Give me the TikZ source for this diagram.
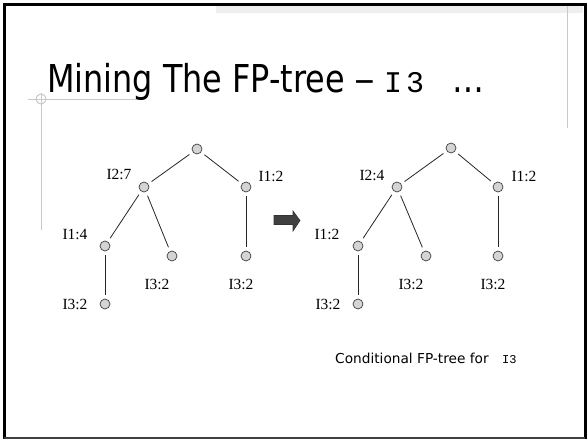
\documentclass[tikz,border=0pt]{standalone}
\usepackage{fontspec}
\newfontfamily\titlefont[FakeStretch=0.83]{DejaVu Sans}
\newfontfamily\capfont{DejaVu Sans}
\newfontfamily\codefont{Liberation Mono}
\newfontfamily\labelfont{Liberation Serif}
\definecolor{framegray}{HTML}{404040}
\definecolor{rulegray}{HTML}{C8C8C8}
\definecolor{bandgray}{HTML}{EEEEEE}
\definecolor{nodefill}{HTML}{D4D4D4}
\definecolor{arrowfill}{HTML}{404040}
\tikzset{
  treenode/.style={circle, draw=framegray, fill=nodefill, line width=0.7pt,
    minimum size=10pt, inner sep=0pt},
  treeedge/.style={draw=black!85, line width=0.8pt, shorten <=4pt, shorten >=4pt},
  countlabel/.style={inner sep=0pt, font=\fontsize{15.5}{16}\labelfont},
  deco/.style={draw=rulegray, line width=1pt},
}
\begin{document}
\begin{tikzpicture}[x=1pt, y=-1pt]
\useasboundingbox (0,0) rectangle (587,439);
\fill[white] (0,0) rectangle (587,439);

% slide decoration: top band, thin rules and crosshair
\fill[bandgray] (216,6) rectangle (583,13);
\draw[deco] (567,6) -- (567,128);
\draw[deco] (28,99) -- (143,99);
\draw[deco] (41,93) -- (41,230);
\draw[deco] (41,99) circle (5);

% slide frame
\draw[black, line width=3pt] (4,439) -- (4,4) -- (585,4) -- (585,439);
\draw[framegray, line width=2pt] (4,437.5) -- (585,437.5);

% title
\node[anchor=base west, inner sep=0pt, font=\fontsize{38.4}{40}\titlefont] (title) at (47,92) {Mining The FP-tree \kern-1pt\scalebox{1.3}[1]{–}};
\node[anchor=base west, inner sep=0pt, font=\fontsize{30}{30}\codefont] (titlecode) at (384,92) {I\kern4pt 3};
\node[anchor=base west, inner sep=0pt, font=\fontsize{38.4}{40}\titlefont] (titledots) at (452,92) {…};

% FP-tree
\node[treenode] (a0) at (197,149) {};
\node[treenode] (a1) at (144,187) {};
\node[treenode] (a2) at (246,187) {};
\node[treenode] (a3) at (105,246) {};
\node[treenode] (a4) at (172,256) {};
\node[treenode] (a5) at (246,256) {};
\node[treenode] (a6) at (105,304) {};
\draw[treeedge] (a0) -- (a1);
\draw[treeedge] (a0) -- (a2);
\draw[treeedge] (a1) -- (a3);
\draw[treeedge] (a1) -- (a4);
\draw[treeedge] (a2) -- (a5);
\draw[treeedge] (a3) -- (a6);
\node[countlabel] (la1) at (119,174) {I2:7};
\node[countlabel] (la2) at (271,176) {I1:2};
\node[countlabel] (la3) at (75,234) {I1:4};
\node[countlabel] (la4) at (157,284) {I3:2};
\node[countlabel] (la5) at (241,284) {I3:2};
\node[countlabel] (la6) at (75,304) {I3:2};

% block arrow
\filldraw[fill=arrowfill, draw=black!80, line width=0.6pt]
  (274,215.5) -- (293,215.5) -- (293,211) -- (300,220.5) -- (293,231) -- (293,224.5) -- (274,224.5) -- cycle;

% conditional FP-tree
\node[treenode] (b0) at (451,148) {};
\node[treenode] (b1) at (397,187) {};
\node[treenode] (b2) at (498,187) {};
\node[treenode] (b3) at (358,246) {};
\node[treenode] (b4) at (426,256) {};
\node[treenode] (b5) at (498,256) {};
\node[treenode] (b6) at (358,304) {};
\draw[treeedge] (b0) -- (b1);
\draw[treeedge] (b0) -- (b2);
\draw[treeedge] (b1) -- (b3);
\draw[treeedge] (b1) -- (b4);
\draw[treeedge] (b2) -- (b5);
\draw[treeedge] (b3) -- (b6);
\node[countlabel] (lb1) at (372,175) {I2:4};
\node[countlabel] (lb2) at (524,176) {I1:2};
\node[countlabel] (lb3) at (327,234) {I1:2};
\node[countlabel] (lb4) at (411,284) {I3:2};
\node[countlabel] (lb5) at (493,284) {I3:2};
\node[countlabel] (lb6) at (328,304) {I3:2};

% caption
\node[anchor=base west, inner sep=0pt, font=\fontsize{13.7}{14}\capfont] (cap) at (335,363) {Conditional FP-tree for};
\node[anchor=base west, inner sep=0pt, font=\fontsize{12}{12}\codefont] (capcode) at (502,363) {I3};
\end{tikzpicture}
\end{document}
